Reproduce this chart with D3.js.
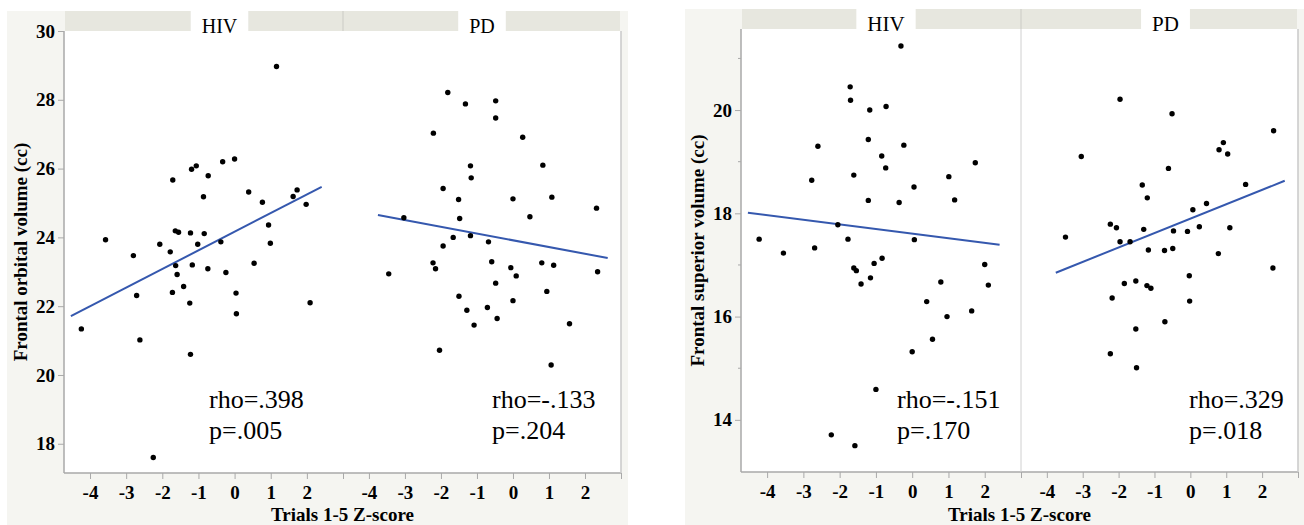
<!DOCTYPE html>
<html>
<head>
<meta charset="utf-8">
<script src="https://cdn.jsdelivr.net/npm/d3@7"></script>
<style>
  body { margin: 0; background: #fff; }
  svg { display: block; font-family: "Liberation Serif", "Times New Roman", serif; }
</style>
</head>
<body>
<div id="chart"></div>
<script>
// ---------- data ----------
var groups = ['HIV', 'PD'];
var xTicks = [-4, -3, -2, -1, 0, 1, 2, 3];
var xTickLabels = ['-4', '-3', '-2', '-1', '0', '1', '2', ''];
var xTitle = 'Trials 1-5 Z-score';

var orbitalTitle = 'Frontal orbital volume (cc)';
var orbitalYTicks = [18, 20, 22, 24, 26, 28, 30];
var orbitalHIV = [
  [0.00, 26.28], [-0.33, 26.20], [-1.06, 26.08], [-1.19, 25.98], [-0.73, 25.79], [-1.71, 25.67],
  [0.39, 25.32], [1.73, 25.38], [1.62, 25.19], [-0.86, 25.18], [0.77, 25.02], [1.98, 24.96],
  [0.94, 24.36], [-1.64, 24.19], [-1.55, 24.15], [-1.22, 24.13], [-0.84, 24.11], [-3.57, 23.93],
  [-0.38, 23.87], [0.99, 23.83], [-2.07, 23.80], [-1.02, 23.80], [-1.78, 23.58], [-2.80, 23.47],
  [-1.63, 23.18], [-1.17, 23.20], [0.54, 23.25], [-0.74, 23.09], [-0.24, 22.98], [-1.59, 22.92],
  [-1.41, 22.57], [-2.71, 22.31], [-1.72, 22.40], [0.04, 22.38], [-1.24, 22.09], [2.09, 22.10],
  [0.05, 21.78], [-4.24, 21.34], [-2.62, 21.02], [-1.22, 20.60], [-2.25, 17.60], [1.16, 28.97]
];
var orbitalPD = [
  [-1.81, 28.21], [-1.32, 27.88], [-0.48, 27.97], [-0.48, 27.47], [-2.21, 27.03], [0.27, 26.91],
  [-1.18, 26.08], [0.83, 26.10], [-1.16, 25.73], [-1.94, 25.42], [-1.51, 25.10], [0.00, 25.12],
  [1.08, 25.17], [2.32, 24.85], [-3.03, 24.57], [-1.48, 24.55], [0.47, 24.60], [-1.66, 24.00],
  [-1.18, 24.05], [-0.68, 23.87], [-1.94, 23.75], [-2.22, 23.26], [-2.15, 23.09], [-3.45, 22.94],
  [-0.59, 23.29], [-0.06, 23.12], [0.09, 22.88], [0.80, 23.26], [1.13, 23.19], [2.35, 23.00],
  [-0.48, 22.67], [0.94, 22.43], [-1.50, 22.29], [0.00, 22.16], [-1.28, 21.88], [-0.71, 21.96],
  [-0.44, 21.64], [-1.08, 21.45], [1.57, 21.49], [-2.04, 20.72], [1.06, 20.29]
];
var orbitalFits = [[-4.53, 21.71, 2.41, 25.47], [-3.75, 24.65, 2.63, 23.40]];
var orbitalStats = [['rho=.398', 'p=.005'], ['rho=-.133', 'p=.204']];

var superiorTitle = 'Frontal superior volume (cc)';
var superiorYTicks = [14, 16, 18, 20];
var superiorMinor = [15, 17, 19, 21];
var superiorHIV = [
  [-0.31, 21.24], [-1.71, 20.45], [-1.70, 20.19], [-1.17, 20.00], [-0.72, 20.07], [-1.21, 19.43],
  [-0.23, 19.32], [-2.60, 19.30], [-0.84, 19.11], [-0.73, 18.88], [1.74, 18.98], [-1.61, 18.74],
  [-2.77, 18.64], [1.01, 18.71], [0.05, 18.51], [-1.21, 18.25], [-0.36, 18.21], [1.17, 18.26],
  [-2.05, 17.78], [-4.22, 17.50], [-1.77, 17.50], [0.06, 17.49], [-3.55, 17.23], [-2.69, 17.33],
  [-0.83, 17.13], [-1.05, 17.03], [-1.61, 16.94], [-1.54, 16.89], [2.00, 17.01], [-1.15, 16.75],
  [-1.41, 16.63], [0.79, 16.67], [2.10, 16.61], [0.40, 16.29], [1.64, 16.11], [0.96, 16.00],
  [0.56, 15.56], [0.00, 15.32], [-1.00, 14.59], [-2.23, 13.71], [-1.58, 13.50]
];
var superiorPD = [
  [-1.96, 20.21], [-0.51, 19.93], [2.32, 19.60], [-3.04, 19.10], [0.92, 19.37], [0.80, 19.23],
  [1.04, 19.15], [-0.61, 18.87], [-1.34, 18.55], [1.54, 18.56], [-1.20, 18.30], [0.45, 18.19],
  [0.07, 18.07], [-2.23, 17.79], [-2.06, 17.72], [-1.30, 17.69], [-0.47, 17.66], [-0.08, 17.65],
  [0.25, 17.74], [1.10, 17.72], [-3.48, 17.54], [-1.96, 17.45], [-1.68, 17.45], [-1.17, 17.29],
  [-0.72, 17.28], [-0.49, 17.32], [0.78, 17.22], [2.30, 16.94], [-0.03, 16.79], [-1.84, 16.64],
  [-1.52, 16.69], [-1.21, 16.60], [-1.10, 16.55], [-2.18, 16.36], [-0.02, 16.30], [-0.71, 15.90],
  [-1.52, 15.76], [-2.23, 15.28], [-1.50, 15.01]
];
var superiorFits = [[-4.53, 18.01, 2.41, 17.39], [-3.75, 16.85, 2.63, 18.63]];
var superiorStats = [['rho=-.151', 'p=.170'], ['rho=.329', 'p=.018']];

// ---------- layout ----------
var W = 1304, H = 525;
var BG = '#f5f5f1', BAND = '#e7e7df', AXIS = '#a9a9a9', FIT = '#3558ae', INK = '#000';
var svg = d3.select('#chart').append('svg').attr('width', W).attr('height', H);

var charts = [
  { bg: [7, 11, 628, 525], l: 64, r: 621, t: 31, b: 473, split: 343, ydom: [17.15, 30], yticks: orbitalYTicks, minor: [],
    title: orbitalTitle, titleX: 20, series: [orbitalHIV, orbitalPD], fits: orbitalFits, stats: orbitalStats,
    statX: [145, 149], tabShift: [16, 0], headSize: 20, divider: false },
  { bg: [685, 9, 1304, 525], l: 741, r: 1298, t: 29, b: 472, split: 1021, ydom: [12.99, 21.57], yticks: superiorYTicks, minor: superiorMinor,
    title: superiorTitle, titleX: 697, series: [superiorHIV, superiorPD], fits: superiorFits, stats: superiorStats,
    statX: [156, 168], tabShift: [5, 6], headSize: 21, divider: true }
];

charts.forEach(function (c) {
  var g = svg.append('g');
  g.append('rect').attr('x', c.bg[0]).attr('y', c.bg[1]).attr('width', c.bg[2] - c.bg[0]).attr('height', c.bg[3] - c.bg[1]).attr('fill', BG);
  g.append('rect').attr('x', c.l).attr('y', c.t).attr('width', c.r - c.l).attr('height', c.b - c.t).attr('fill', '#fff');

  var y = d3.scaleLinear().domain(c.ydom).range([c.b, c.t]);
  var panels = [[c.l, c.split], [c.split, c.r]];

  panels.forEach(function (p, i) {
    var x = d3.scaleLinear().domain([-4.72, 3]).range(p);
    // header band + tab
    g.append('rect').attr('x', p[0] + 1).attr('y', c.bg[1]).attr('width', p[1] - p[0] - 2).attr('height', c.t - c.bg[1]).attr('fill', BAND);
    var cx = (p[0] + p[1]) / 2 + c.tabShift[i];
    var lab = g.append('text').attr('x', cx).attr('y', c.t + 2).attr('text-anchor', 'middle').attr('font-size', c.headSize).attr('fill', INK).text(groups[i]);
    var tw = lab.node().getComputedTextLength();
    g.insert('rect', function () { return lab.node(); }).attr('x', cx - tw / 2 - 11).attr('y', c.bg[1]).attr('width', tw + 22).attr('height', c.t - c.bg[1] + 1).attr('fill', '#fff');

    // x axis ticks
    var ax = g.append('g').attr('transform', 'translate(0,' + c.b + ')')
      .call(d3.axisBottom(x).tickValues(xTicks).tickSize(6).tickFormat(function (d, k) { return xTickLabels[k]; }));
    ax.select('.domain').remove();
    ax.selectAll('line').attr('stroke', AXIS);
    ax.selectAll('text').attr('font-family', '"Liberation Serif", serif').attr('font-weight', 700).attr('font-size', 19).attr('fill', INK).attr('y', 26).attr('dy', 0);

    // fit line
    var f = c.fits[i];
    g.append('line').attr('x1', x(f[0])).attr('y1', y(f[1])).attr('x2', x(f[2])).attr('y2', y(f[3])).attr('stroke', FIT).attr('stroke-width', 2);

    // points
    g.append('g').selectAll('circle').data(c.series[i]).join('circle')
      .attr('cx', function (d) { return x(d[0]); }).attr('cy', function (d) { return y(d[1]); }).attr('r', 2.7).attr('fill', INK);

    // stats
    c.stats[i].forEach(function (s, k) {
      g.append('text').attr('x', p[0] + c.statX[i]).attr('y', 408 + k * 31).attr('font-size', 26).attr('fill', INK).text(s);
    });
  });

  // frame lines
  g.append('line').attr('x1', c.l).attr('x2', c.l).attr('y1', c.t).attr('y2', c.b).attr('stroke', AXIS).attr('stroke-width', 1.5);
  g.append('line').attr('x1', c.l).attr('x2', c.r).attr('y1', c.b).attr('y2', c.b).attr('stroke', AXIS).attr('stroke-width', 1.5);
  g.append('line').attr('x1', c.r).attr('x2', c.r).attr('y1', c.t).attr('y2', c.b).attr('stroke', '#c8c8c8').attr('stroke-width', 1.5);
  g.append('rect').attr('x', c.split - 1).attr('y', c.bg[1]).attr('width', 2).attr('height', c.t - c.bg[1]).attr('fill', '#d9d9d2');
  if (c.divider) g.append('line').attr('x1', c.split).attr('x2', c.split).attr('y1', c.t).attr('y2', c.b).attr('stroke', '#d0d0d0').attr('stroke-width', 1);

  // y axis
  var ay = g.append('g').attr('transform', 'translate(' + c.l + ',0)')
    .call(d3.axisLeft(y).tickValues(c.yticks).tickSize(6).tickPadding(3));
  ay.select('.domain').remove();
  ay.selectAll('line').attr('stroke', AXIS);
  ay.selectAll('text').attr('font-family', '"Liberation Serif", serif').attr('font-weight', 700).attr('font-size', 19).attr('fill', INK);
  g.append('g').selectAll('line').data(c.minor).join('line')
    .attr('x1', c.l - 3).attr('x2', c.l).attr('y1', function (d) { return y(d); }).attr('y2', function (d) { return y(d); }).attr('stroke', AXIS);

  // titles
  g.append('text').attr('transform', 'translate(' + c.titleX + ',' + ((c.t + c.b) / 2) + ') rotate(-90)').attr('text-anchor', 'middle').attr('dy', '.35em')
    .attr('font-weight', 700).attr('font-size', 19).attr('fill', INK).text(c.title);
  g.append('text').attr('x', (c.l + c.r) / 2).attr('y', 521).attr('text-anchor', 'middle').attr('font-weight', 700).attr('font-size', 19).attr('fill', INK).text(xTitle);
});
</script>
</body>
</html>
